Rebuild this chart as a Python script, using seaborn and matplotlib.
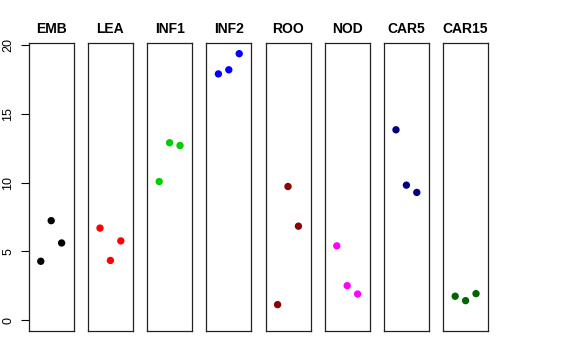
import pandas as pd
import matplotlib
matplotlib.use("Agg")
import matplotlib.pyplot as plt
import seaborn as sns

# tissues and their three replicate values
tissues = ["EMB", "LEA", "INF1", "INF2", "ROO", "NOD", "CAR5", "CAR15"]
replicate = [1, 2, 3]
values = {
    "EMB":   [4.29, 7.24, 5.62],
    "LEA":   [6.70, 4.35, 5.77],
    "INF1":  [10.08, 12.90, 12.70],
    "INF2":  [17.90, 18.20, 19.37],
    "ROO":   [1.14, 9.72, 6.84],
    "NOD":   [5.41, 2.52, 1.91],
    "CAR5":  [13.84, 9.82, 9.29],
    "CAR15": [1.75, 1.43, 1.94],
}
colors = ["black", "red", "#00CD00", "blue", "#8B0000", "magenta", "#000080", "#006400"]
y_ticks = [0, 5, 10, 15, 20]

rows = []
for t in tissues:
    for r, v in zip(replicate, values[t]):
        rows.append({"tissue": t, "rep": r, "value": v})
df = pd.DataFrame(rows)

sns.set_style("white")
plt.rcParams["font.family"] = ["Liberation Sans", "DejaVu Sans"]
plt.rcParams["text.color"] = "black"
plt.rcParams["ytick.color"] = "black"
plt.rcParams["ytick.labelcolor"] = "black"

fig = plt.figure(figsize=(5.76, 3.6), dpi=100)
ymax = df["value"].max()
pad_y = 0.04 * ymax

for i, (t, c) in enumerate(zip(tissues, colors)):
    left = (28.7 + i * 59.2) / 576
    ax = fig.add_axes([left, 29 / 360, 45 / 576, 288 / 360])
    sub = df[df["tissue"] == t]
    sns.scatterplot(data=sub, x="rep", y="value", color=c, s=28,
                    edgecolor="none", ax=ax, legend=False)
    ax.set_xlim(-0.16, 4.16)
    ax.set_ylim(-pad_y, ymax + pad_y)
    ax.set_xticks([])
    ax.set_xlabel("")
    ax.set_ylabel("")
    for sp in ax.spines.values():
        sp.set_visible(True)
        sp.set_color("#222222")
        sp.set_linewidth(0.9)
    ax.set_title(t, fontweight="bold", fontsize=10, pad=7, color="black")
    if i == 0:
        ax.set_yticks(y_ticks)
        ax.tick_params(axis="y", left=True, length=5.5, width=0.8,
                       labelsize=9, pad=5, color="black", labelcolor="black")
        for lab in ax.get_yticklabels():
            lab.set_rotation(90)
            lab.set_va("center")
    else:
        ax.set_yticks([])

fig.savefig("out.png", dpi=100)
